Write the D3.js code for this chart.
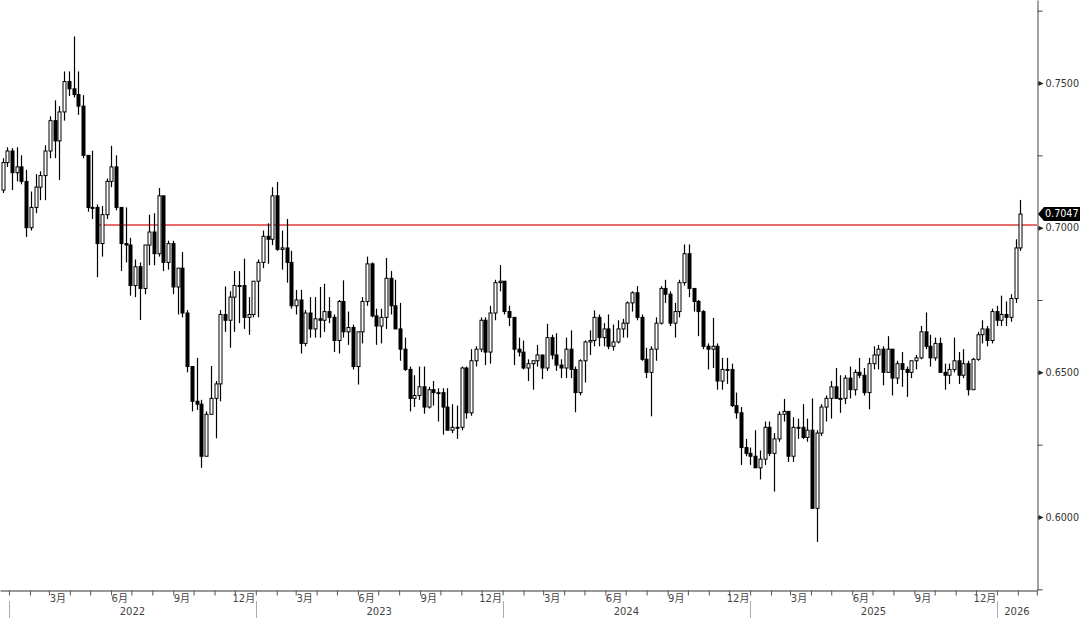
<!DOCTYPE html>
<html><head><meta charset="utf-8">
<script src="https://cdn.jsdelivr.net/npm/d3@7"></script>
<style>body{margin:0;background:#fff;}svg{display:block;}</style>
</head><body>
<svg id="chart" width="1080" height="618"></svg>
<script>
// Weekly AUD/USD candles [open, high, low, close], weeks starting Monday 2021-12-20
const bars2021 = [
[.7130,.7240,.7120,.7225],[.7225,.7278,.7210,.7265]];
const bars2022 = [
[.7265,.7275,.7130,.7190],[.7190,.7278,.7160,.7210],[.7210,.7250,.7150,.7160],[.7160,.7200,.6968,.7000],
[.7000,.7125,.6990,.7070],[.7070,.7185,.7050,.7140],[.7140,.7195,.7095,.7180],[.7180,.7285,.7095,.7265],
[.7265,.7385,.7240,.7370],[.7370,.7440,.7240,.7300],[.7300,.7420,.7165,.7400],[.7400,.7540,.7370,.7505],
[.7505,.7540,.7455,.7480],[.7480,.7661,.7450,.7460],[.7460,.7540,.7390,.7420],[.7420,.7458,.7240,.7250],
[.7250,.7250,.7055,.7070],[.7070,.7266,.7030,.7070],[.7070,.7080,.6829,.6945],[.6945,.7075,.6900,.7045],
[.7045,.7170,.7030,.7160],[.7160,.7283,.7140,.7210],[.7210,.7250,.7060,.7070],[.7070,.7070,.6850,.6945],
[.6945,.7070,.6880,.6940],[.6940,.6965,.6765,.6800],[.6800,.6890,.6760,.6865],[.6865,.6880,.6681,.6790],
[.6790,.6930,.6770,.6940],[.6940,.7045,.6870,.6985],[.6985,.7050,.6870,.6910],[.6910,.7137,.6900,.7110],
[.7110,.7110,.6850,.6880],[.6880,.6955,.6855,.6945],[.6945,.6955,.6770,.6795],[.6795,.6850,.6700,.6860],
[.6860,.6916,.6690,.6705],[.6705,.6715,.6500,.6520],[.6520,.6520,.6365,.6400],[.6400,.6550,.6370,.6390],
[.6390,.6405,.6170,.6210],[.6210,.6365,.6210,.6355],[.6355,.6522,.6355,.6410],[.6410,.6470,.6272,.6460],
[.6460,.6715,.6400,.6700],[.6700,.6797,.6640,.6680],[.6680,.6780,.6585,.6760],[.6760,.6850,.6640,.6800],
[.6800,.6850,.6670,.6800],[.6800,.6893,.6650,.6690],[.6690,.6760,.6630,.6700],[.6700,.6815,.6690,.6815]];
const bars2023 = [
[.6815,.6890,.6690,.6880],[.6880,.6990,.6860,.6970],[.6970,.7015,.6875,.6960],[.6960,.7140,.6940,.7110],
[.7110,.7158,.6920,.6925],[.6925,.6990,.6855,.6930],[.6930,.7030,.6810,.6880],[.6880,.6920,.6720,.6730],
[.6730,.6785,.6700,.6750],[.6750,.6785,.6565,.6600],[.6600,.6715,.6590,.6705],[.6705,.6760,.6620,.6650],
[.6650,.6760,.6620,.6685],[.6685,.6795,.6620,.6680],[.6680,.6806,.6640,.6710],[.6710,.6760,.6670,.6690],
[.6690,.6700,.6570,.6610],[.6610,.6750,.6565,.6745],[.6745,.6818,.6620,.6640],[.6640,.6710,.6595,.6655],
[.6655,.6665,.6510,.6520],[.6520,.6640,.6458,.6640],[.6640,.6760,.6600,.6745],[.6745,.6900,.6730,.6875],
[.6875,.6880,.6690,.6695],[.6695,.6720,.6595,.6660],[.6660,.6720,.6600,.6690],[.6690,.6895,.6650,.6825],
[.6825,.6850,.6700,.6730],[.6730,.6820,.6650,.6650],[.6650,.6740,.6540,.6580],[.6580,.6620,.6505,.6510],
[.6510,.6520,.6365,.6410],[.6410,.6490,.6380,.6420],[.6420,.6520,.6405,.6450],[.6450,.6520,.6357,.6380],
[.6380,.6450,.6375,.6440],[.6440,.6470,.6385,.6430],[.6430,.6445,.6330,.6430],[.6430,.6445,.6285,.6380],
[.6380,.6445,.6300,.6300],[.6300,.6390,.6290,.6310],[.6310,.6385,.6270,.6310],[.6310,.6520,.6300,.6515],
[.6515,.6520,.6340,.6360],[.6360,.6580,.6350,.6540],[.6540,.6590,.6520,.6580],[.6580,.6690,.6570,.6680],
[.6680,.6690,.6525,.6570],[.6570,.6730,.6530,.6705],[.6705,.6820,.6680,.6810],[.6810,.6871,.6780,.6815]];
const bars2024 = [
[.6815,.6815,.6700,.6710],[.6710,.6730,.6660,.6690],[.6690,.6690,.6525,.6580],[.6580,.6620,.6555,.6570],
[.6570,.6610,.6510,.6515],[.6515,.6545,.6470,.6530],[.6530,.6540,.6440,.6540],[.6540,.6595,.6520,.6560],
[.6560,.6560,.6477,.6515],[.6515,.6668,.6505,.6620],[.6620,.6630,.6545,.6560],[.6560,.6635,.6505,.6525],
[.6525,.6545,.6480,.6515],[.6515,.6620,.6480,.6580],[.6580,.6645,.6480,.6510],[.6510,.6520,.6362,.6430],
[.6430,.6545,.6420,.6540],[.6540,.6610,.6465,.6605],[.6605,.6645,.6560,.6610],[.6610,.6714,.6590,.6690],
[.6690,.6700,.6590,.6620],[.6620,.6670,.6590,.6650],[.6650,.6700,.6580,.6590],[.6590,.6665,.6575,.6605],
[.6605,.6680,.6600,.6650],[.6650,.6685,.6620,.6670],[.6670,.6745,.6620,.6740],[.6740,.6780,.6710,.6775],
[.6775,.6798,.6680,.6690],[.6690,.6700,.6540,.6545],[.6545,.6585,.6480,.6500],[.6500,.6590,.6348,.6580],
[.6580,.6690,.6540,.6670],[.6670,.6798,.6665,.6790],[.6790,.6820,.6740,.6770],[.6770,.6780,.6660,.6670],
[.6670,.6740,.6620,.6710],[.6710,.6820,.6690,.6810],[.6810,.6942,.6800,.6910],[.6910,.6942,.6760,.6790],
[.6790,.6790,.6710,.6745],[.6745,.6750,.6625,.6710],[.6710,.6715,.6580,.6590],[.6590,.6600,.6510,.6580],
[.6580,.6688,.6515,.6590],[.6590,.6600,.6440,.6470],[.6470,.6550,.6440,.6510],[.6510,.6550,.6460,.6510],
[.6510,.6530,.6380,.6385],[.6385,.6430,.6340,.6360],[.6360,.6380,.6180,.6240],[.6240,.6270,.6210,.6220],
[.6220,.6240,.6180,.6210]];
const bars2025 = [
[.6210,.6300,.6170,.6170],[.6170,.6230,.6130,.6200],[.6200,.6330,.6180,.6310],[.6310,.6330,.6210,.6220],
[.6220,.6290,.6088,.6270],[.6270,.6365,.6260,.6355],[.6355,.6408,.6330,.6365],[.6365,.6365,.6190,.6210],
[.6210,.6345,.6190,.6310],[.6310,.6340,.6270,.6310],[.6310,.6390,.6270,.6275],[.6275,.6340,.6260,.6300],
[.6300,.6410,.6030,.6030],[.6030,.6300,.5914,.6290],[.6290,.6390,.6280,.6380],[.6380,.6420,.6330,.6410],
[.6410,.6470,.6340,.6450],[.6450,.6515,.6410,.6410],[.6410,.6490,.6360,.6410],[.6410,.6490,.6390,.6480],
[.6480,.6520,.6410,.6440],[.6440,.6510,.6420,.6500],[.6500,.6550,.6480,.6490],[.6490,.6515,.6420,.6430],
[.6430,.6550,.6372,.6530],[.6530,.6590,.6510,.6560],[.6560,.6595,.6510,.6580],[.6580,.6590,.6455,.6500],
[.6500,.6625,.6500,.6580],[.6580,.6580,.6420,.6480],[.6480,.6540,.6460,.6530],[.6530,.6570,.6450,.6510],
[.6510,.6520,.6415,.6500],[.6500,.6540,.6480,.6540],[.6540,.6560,.6510,.6550],[.6550,.6660,.6545,.6640],
[.6640,.6707,.6580,.6590],[.6590,.6630,.6520,.6550],[.6550,.6620,.6540,.6600],[.6600,.6620,.6500,.6500],
[.6500,.6530,.6440,.6490],[.6490,.6530,.6460,.6510],[.6510,.6620,.6500,.6540],[.6540,.6570,.6460,.6490],
[.6490,.6580,.6480,.6530],[.6530,.6540,.6420,.6440],[.6440,.6550,.6440,.6545],[.6545,.6640,.6540,.6630],
[.6630,.6680,.6600,.6650],[.6650,.6660,.6590,.6610],[.6610,.6720,.6600,.6710],[.6710,.6730,.6660,.6680]];
const bars2026 = [
[.6680,.6765,.6660,.6700],[.6700,.6745,.6660,.6690],[.6690,.6770,.6675,.6755],[.6755,.6960,.6740,.6930],
[.6930,.7096,.6920,.7047]];

const firstMonday = new Date(2021, 11, 20);
const lastMonday = new Date(2026, 1, 2);
const yMajorTicks = [0.60, 0.65, 0.70, 0.75];
const yMinorTicks = [0.575, 0.625, 0.675, 0.725, 0.775];
const monthLabelNames = {2: "3月", 5: "6月", 8: "9月", 11: "12月"};
const yearLabels = ["2022", "2023", "2024", "2025", "2026"];
const lastPrice = 0.7047;
const lastPriceLabel = "0.7047";
const refLevel = 0.701;
const refStartDate = new Date(2022, 4, 11);

// ---- layout ----
const plotRight = 1037, plotBottom = 590;
const svg = d3.select("#chart");
const x = d3.scaleTime()
  .domain([new Date(2021, 11, 18, 17), new Date(2026, 2, 1, 7)])
  .range([0, plotRight]);
const y = d3.scaleLinear().domain([0.57477, 0.77869]).range([plotBottom, 0]);

const allBars = [].concat(bars2021, bars2022, bars2023, bars2024, bars2025, bars2026);
const weeks = d3.timeMonday.range(firstMonday, d3.timeDay.offset(lastMonday, 1));
const data = weeks.map((d, i) => ({date: d, o: allBars[i][0], h: allBars[i][1], l: allBars[i][2], c: allBars[i][3]}));

svg.append("defs").append("clipPath").attr("id", "clip")
  .append("rect").attr("x", 0).attr("y", 0).attr("width", plotRight).attr("height", plotBottom);

const fontFam = "'DejaVu Sans', 'Noto Sans CJK SC', sans-serif";

// reference line (red, behind the candles)
const ry = Math.round(y(refLevel));
svg.append("rect").attr("x", x(refStartDate)).attr("width", plotRight - x(refStartDate))
  .attr("y", ry - 0.75).attr("height", 1.5)
  .attr("fill", "#e23c3c");

// candles
const cg = svg.append("g").attr("clip-path", "url(#clip)");
const candle = cg.selectAll("g.c").data(data).join("g").attr("class", "c");
const cxOf = d => Math.round(x(d3.timeHour.offset(d.date, 60))) + 0.5;
candle.append("line")
  .attr("x1", cxOf).attr("x2", cxOf)
  .attr("y1", d => y(d.h)).attr("y2", d => y(d.l))
  .attr("stroke", "#000").attr("stroke-width", 1.2);
candle.append("rect")
  .attr("x", d => cxOf(d) - 1.5).attr("width", 3)
  .attr("y", d => y(Math.max(d.o, d.c)))
  .attr("height", d => Math.max(1, Math.abs(y(d.o) - y(d.c))))
  .attr("fill", d => d.c >= d.o ? "#fff" : "#000")
  .attr("stroke", "#000").attr("stroke-width", 1);

// right axis
const yAxis = d3.axisRight(y)
  .tickValues(yMinorTicks.concat(yMajorTicks))
  .tickSize(5).tickSizeOuter(0)
  .tickFormat(d => yMajorTicks.includes(d) ? d.toFixed(4) : "");
const ya = svg.append("g").attr("transform", `translate(${plotRight + 0.5},0)`).call(yAxis);
ya.select(".domain").attr("stroke", "#444");
ya.selectAll(".tick line").attr("stroke", "#444");
ya.selectAll(".tick text").attr("x", 8).attr("fill", "#333")
  .style("font-family", fontFam).style("font-size", "9.6px");
ya.selectAll(".tick").filter(d => yMajorTicks.includes(d))
  .append("path").attr("d", "M1,-2.5L6,0L1,2.5Z").attr("fill", "#222");

// last price tag
const ly = y(lastPrice);
svg.append("path")
  .attr("d", `M${plotRight + 1},${ly} L${plotRight + 7},${ly - 7} L1080,${ly - 7} L1080,${ly + 7} L${plotRight + 7},${ly + 7} Z`)
  .attr("fill", "#000");
svg.append("text").attr("x", plotRight + 8).attr("y", ly).attr("dy", "0.35em")
  .attr("fill", "#fff").style("font-family", fontFam).style("font-size", "9.6px").text(lastPriceLabel);

// bottom axis (monthly ticks)
const xAxis = d3.axisBottom(x).ticks(d3.timeMonth.every(1)).tickSize(5).tickSizeOuter(0).tickFormat("");
const xa = svg.append("g").attr("transform", `translate(0,${plotBottom + 0.5})`).call(xAxis);
xa.select(".domain").attr("stroke", "#333");
xa.selectAll(".tick line").attr("stroke", "#555");

// month labels centered in month (only months fully inside the plot)
const months = d3.timeMonth.range(new Date(2022, 0, 1), new Date(2026, 1, 1));
svg.append("g").selectAll("text")
  .data(months.filter(m => monthLabelNames[m.getMonth()] !== undefined))
  .join("text")
  .attr("x", m => (x(m) + x(d3.timeMonth.offset(m, 1))) / 2 - 1.5)
  .attr("y", 602).attr("text-anchor", "middle").attr("fill", "#444")
  .style("font-family", fontFam).style("font-size", "10px")
  .text(m => monthLabelNames[m.getMonth()]);

// year separators and labels
const yearStarts = yearLabels.map(t => new Date(+t, 0, 1));
svg.append("g").selectAll("line").data(yearStarts).join("line")
  .attr("x1", d => Math.round(x(d)) + 0.5).attr("x2", d => Math.round(x(d)) + 0.5)
  .attr("y1", 601).attr("y2", 618).attr("stroke", "#aaa");
svg.append("g").selectAll("text").data(yearLabels).join("text")
  .attr("x", (t, i) => {
    const a = Math.max(0, x(yearStarts[i]));
    const b = Math.min(plotRight, x(new Date(+t + 1, 0, 1)));
    return (a + b) / 2;
  })
  .attr("y", 615).attr("text-anchor", "middle").attr("fill", "#444")
  .style("font-family", fontFam).style("font-size", "10px")
  .text(t => t);
</script>
</body></html>
